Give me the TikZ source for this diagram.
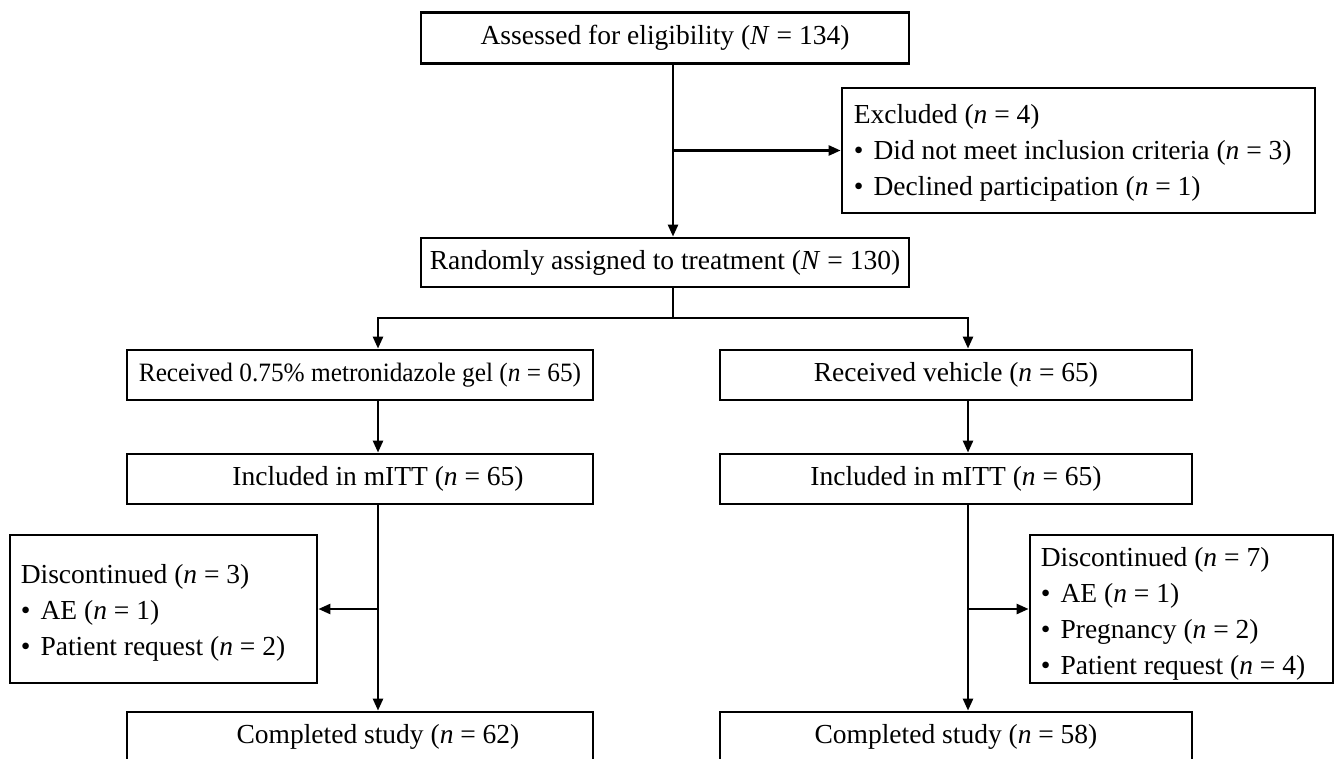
\documentclass[tikz,border=0pt]{standalone}
\usepackage{fontspec}
\setmainfont{Liberation Serif}
\usetikzlibrary{arrows.meta}
\newcommand{\bl}{\makebox[0.72em][l]{\textbullet}}
\begin{document}
\begin{tikzpicture}[x=1pt,y=-1pt,
  box/.style={draw=black, line width=2.8pt, fill=white, font=\fontsize{27.5}{36}\selectfont, inner sep=0pt, align=center},
  lbl/.style={font=\fontsize{27.5}{36}\selectfont, inner sep=0pt},
  ltxt/.style={font=\fontsize{27.5}{36}\selectfont, inner sep=0pt, anchor=west, align=flush left},
  arr/.style={line width=2.5pt, -{Triangle[length=12pt,width=10pt]}},
  ln/.style={line width=2.5pt}]
\useasboundingbox (0,0) rectangle (1338,759);
\fill[white] (0,0) rectangle (1338,759);
% nodes
\node[box, minimum width=488, minimum height=51] (assess) at (665,38) {Assessed for eligibility (\textit{N} = 134)};
\node[box, minimum width=473, minimum height=125] (excl) at (1078.5,150.5) {};
\node[ltxt] (exclT) at ([xshift=13pt,yshift=-2.5pt]excl.west) {Excluded (\textit{n} = 4)\\ \bl Did not meet inclusion criteria (\textit{n} = 3)\\ \bl Declined participation (\textit{n} = 1)};
\node[box, minimum width=488, minimum height=49] (rand) at (665,262.5) {Randomly assigned to treatment (\textit{N} = 130)};
\node[box, minimum width=466, minimum height=50, font=\fontsize{26.5}{36}\selectfont] (recvL) at (360,375) {\scalebox{0.955}[1]{Received 0.75\% metronidazole gel (\textit{n} = 65)}};
\node[box, minimum width=472, minimum height=50] (recvR) at (956,375) {Received vehicle (\textit{n} = 65)};
\node[box, minimum width=466, minimum height=50] (inclL) at (360,479) {};
\node[lbl] (inclLt) at (378,479) {Included in mITT (\textit{n} = 65)};
\node[box, minimum width=472, minimum height=50] (inclR) at (956,479) {Included in mITT (\textit{n} = 65)};
\node[box, minimum width=307, minimum height=148] (discL) at (163.5,609) {};
\node[ltxt] (discLT) at ([xshift=12pt,yshift=-4pt]discL.west) {Discontinued (\textit{n} = 3)\\ \bl AE (\textit{n} = 1)\\ \bl Patient request (\textit{n} = 2)};
\node[box, minimum width=303, minimum height=148] (discR) at (1181.5,609) {};
\node[ltxt] (discRT) at ([xshift=12pt,yshift=-4.5pt]discR.west) {Discontinued (\textit{n} = 7)\\ \bl AE (\textit{n} = 1)\\ \bl Pregnancy (\textit{n} = 2)\\ \bl Patient request (\textit{n} = 4)};
\node[box, minimum width=466, minimum height=50] (complL) at (360,737) {};
\node[lbl] (complLt) at (378,737) {Completed study (\textit{n} = 62)};
\node[box, minimum width=472, minimum height=50] (complR) at (956,737) {Completed study (\textit{n} = 58)};
% guide coordinates
\coordinate (cM) at (673,318);
\coordinate (cL) at (378,318);
\coordinate (cR) at (968,318);
% connectors
\draw[arr] (assess.south -| cM) -- (rand.north -| cM);
\draw[arr] (excl.west -| cM) -- (excl.west);
\draw[ln] (rand.south -| cM) -- (cM);
\draw[ln, line cap=rect] (cL) -- (cR);
\draw[arr] (cL) -- (recvL.north -| cL);
\draw[arr] (cR) -- (recvR.north -| cR);
\draw[arr] (recvL.south -| cL) -- (inclL.north -| cL);
\draw[arr] (recvR.south -| cR) -- (inclR.north -| cR);
\draw[arr] (inclL.south -| cL) -- (complL.north -| cL);
\draw[arr] (inclR.south -| cR) -- (complR.north -| cR);
\draw[arr] (discL.east -| cL) -- (discL.east);
\draw[arr] (discR.west -| cR) -- (discR.west);
\end{tikzpicture}
\end{document}
